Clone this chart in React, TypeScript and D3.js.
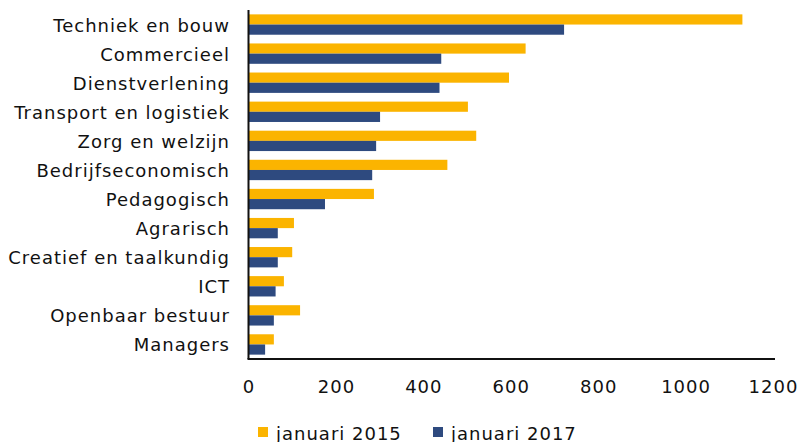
import React from "react";
import * as d3 from "d3";

const categories = [
  "Techniek en bouw",
  "Commercieel",
  "Dienstverlening",
  "Transport en logistiek",
  "Zorg en welzijn",
  "Bedrijfseconomisch",
  "Pedagogisch",
  "Agrarisch",
  "Creatief en taalkundig",
  "ICT",
  "Openbaar bestuur",
  "Managers",
];
const jan2015 = [1130, 634, 596, 502, 521, 455, 287, 104, 100, 81, 118, 58];
const jan2017 = [722, 441, 437, 301, 292, 283, 175, 67, 67, 62, 58, 38];
const seriesNames = ["januari 2015", "januari 2017"];
const xTicks = [0, 200, 400, 600, 800, 1000, 1200];

const W = 803;
const H = 442;
const left = 248.5;
const right = 773;
const top = 10;
const bottom = 359;
const colors = ["#FBB400", "#2E4A7F"];
const font = "DejaVu Sans, Verdana, sans-serif";
const fs = 18;
const ls = 1;

export default function App() {
  const x = d3.scaleLinear().domain([0, 1200]).range([left, right]);
  const y = d3
    .scaleBand<string>()
    .domain(categories)
    .range([top, bottom])
    .paddingInner(0.3)
    .paddingOuter(0.15);
  const inner = d3
    .scaleBand<number>()
    .domain([0, 1])
    .range([0, y.bandwidth()]);
  const series = [jan2015, jan2017];

  return (
    <svg
      width={W}
      height={H}
      style={{ position: "absolute", left: 0, top: 0, background: "#fff" }}
      fontFamily={font}
    >
      {categories.map((c, i) => (
        <g key={c}>
          {series.map((s, k) => (
            <rect
              key={k}
              x={x(0)}
              y={(y(c) as number) + (inner(k) as number)}
              width={x(s[i]) - x(0)}
              height={inner.bandwidth()}
              fill={colors[k]}
            />
          ))}
          <text
            x={230}
            y={(y(c) as number) + y.bandwidth() / 2 + 0.5}
            textAnchor="end"
            dominantBaseline="central"
            fontSize={fs}
            letterSpacing={ls}
            fill="#111"
          >
            {c}
          </text>
        </g>
      ))}
      <line x1={left} x2={left} y1={top} y2={bottom} stroke="#111" strokeWidth={2} />
      <line x1={left - 1} x2={right + 2} y1={bottom} y2={bottom} stroke="#111" strokeWidth={2} />
      {xTicks.map((t) => (
        <text
          key={t}
          x={x(t) + ls / 2}
          y={386}
          textAnchor="middle"
          dominantBaseline="central"
          fontSize={fs}
          letterSpacing={ls}
          fill="#111"
        >
          {t}
        </text>
      ))}
      {seriesNames.map((n, k) => {
        const lx = [258, 433][k];
        return (
          <g key={n}>
            <rect x={lx} y={427} width={10} height={10} fill={colors[k]} />
            <text x={lx + 18} y={433} dominantBaseline="central" fontSize={fs} letterSpacing={ls} fill="#111">
              {n}
            </text>
          </g>
        );
      })}
    </svg>
  );
}
